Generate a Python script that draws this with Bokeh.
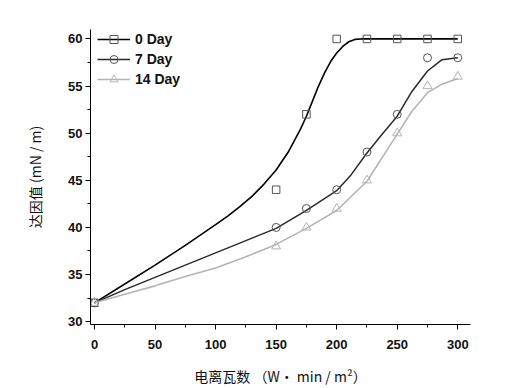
from bokeh.plotting import figure
from bokeh.models import SingleIntervalTicker, Legend, LegendItem, Range1d
from bokeh.embed import file_html
from bokeh.resources import INLINE

# measured points
pt_x = [0, 150, 175, 200, 225, 250, 275, 300]
day0 = [32, 44, 52, 60, 60, 60, 60, 60]
day7 = [32, 40, 42, 44, 48, 52, 58, 58]
day14 = [32, 38, 40, 42, 45, 50, 55, 56]

# fitted curves
c0_x = [0, 25, 50, 75, 100, 110, 120, 130, 140, 150, 160, 170, 175, 180, 185, 190, 195, 200, 205, 210, 215, 220, 230, 250, 275, 300]
c0_y = [32, 34.0, 36.0, 38.1, 40.3, 41.2, 42.2, 43.3, 44.6, 46.1, 48.0, 50.4, 51.8, 53.4, 55.0, 56.4, 57.6, 58.5, 59.2, 59.7, 59.95, 60.0, 60.0, 60.0, 60.0, 60.0]
c7_x = [0, 25, 50, 75, 100, 125, 150, 175, 200, 212, 225, 237, 250, 262, 275, 287, 300]
c7_y = [32, 33.4, 34.7, 36.0, 37.3, 38.6, 39.9, 41.8, 43.9, 45.6, 47.9, 49.8, 51.8, 54.4, 56.6, 57.8, 58.0]
c14_x = [0, 25, 50, 75, 100, 125, 150, 175, 200, 225, 237, 250, 262, 275, 287, 300]
c14_y = [32, 32.9, 33.8, 34.8, 35.7, 36.9, 38.2, 39.9, 41.8, 44.9, 47.3, 49.9, 52.3, 54.3, 55.2, 55.8]

labels = ["0 Day", "7 Day", "14 Day"]
x_label = "电离瓦数 （W• min / m²）"
y_label = "达因值 (mN / m)"

p = figure(width=509, height=388, output_backend="svg", toolbar_location=None,
           x_range=Range1d(-3.3, 310.5), y_range=Range1d(29.7, 61.0),
           min_border_left=90, min_border_right=39, min_border_top=29, min_border_bottom=58)
p.outline_line_color = None
p.xgrid.visible = False
p.ygrid.visible = False
p.background_fill_color = "white"
p.border_fill_color = "white"

r0l = p.line(c0_x, c0_y, line_color="#000000", line_width=1.6)
r0s = p.scatter(pt_x, day0, marker="square", size=7.5, fill_color=None, line_color="#555555", line_width=1)
r7l = p.line(c7_x, c7_y, line_color="#2a2a2a", line_width=1.5)
r7s = p.scatter(pt_x, day7, marker="circle", size=8, fill_color=None, line_color="#555555", line_width=1)
r14l = p.line(c14_x, c14_y, line_color="#b4b4b4", line_width=1.6)
r14s = p.scatter(pt_x, day14, marker="triangle", size=9, fill_color=None, line_color="#b4b4b4", line_width=1)

legend = Legend(items=[LegendItem(label=labels[0], renderers=[r0l, r0s]),
                       LegendItem(label=labels[1], renderers=[r7l, r7s]),
                       LegendItem(label=labels[2], renderers=[r14l, r14s])],
                location=(7, 235), border_line_color=None, background_fill_alpha=0,
                padding=0, margin=0, spacing=0, glyph_width=33, glyph_height=20,
                label_height=20, label_standoff=5,
                label_text_font="Liberation Sans", label_text_font_style="bold",
                label_text_font_size="14px", label_text_color="#111111")
p.add_layout(legend, "center")

for ax in (p.xaxis[0], p.yaxis[0]):
    ax.axis_line_color = "black"
    ax.axis_line_width = 1
    ax.major_tick_in = 0
    ax.major_tick_out = 5
    ax.minor_tick_in = 0
    ax.minor_tick_out = 3
    ax.major_tick_line_color = "black"
    ax.minor_tick_line_color = "black"
    ax.major_label_text_font = "Liberation Sans"
    ax.major_label_text_font_style = "bold"
    ax.major_label_text_font_size = "13px"
    ax.major_label_text_color = "#111111"
    ax.axis_label_text_font = "Noto Sans CJK SC"
    ax.axis_label_text_font_style = "normal"
    ax.axis_label_text_font_size = "14px"
    ax.axis_label_text_color = "#111111"

p.xaxis[0].ticker = SingleIntervalTicker(interval=50, num_minor_ticks=2)
p.yaxis[0].ticker = SingleIntervalTicker(interval=5, num_minor_ticks=2)
p.xaxis[0].axis_label = x_label
p.yaxis[0].axis_label = y_label
p.xaxis[0].major_label_standoff = 10
p.xaxis[0].axis_label_standoff = 14
p.yaxis[0].major_label_standoff = 3
p.yaxis[0].axis_label_standoff = 20

open("out.html", "w").write(file_html(p, INLINE))
